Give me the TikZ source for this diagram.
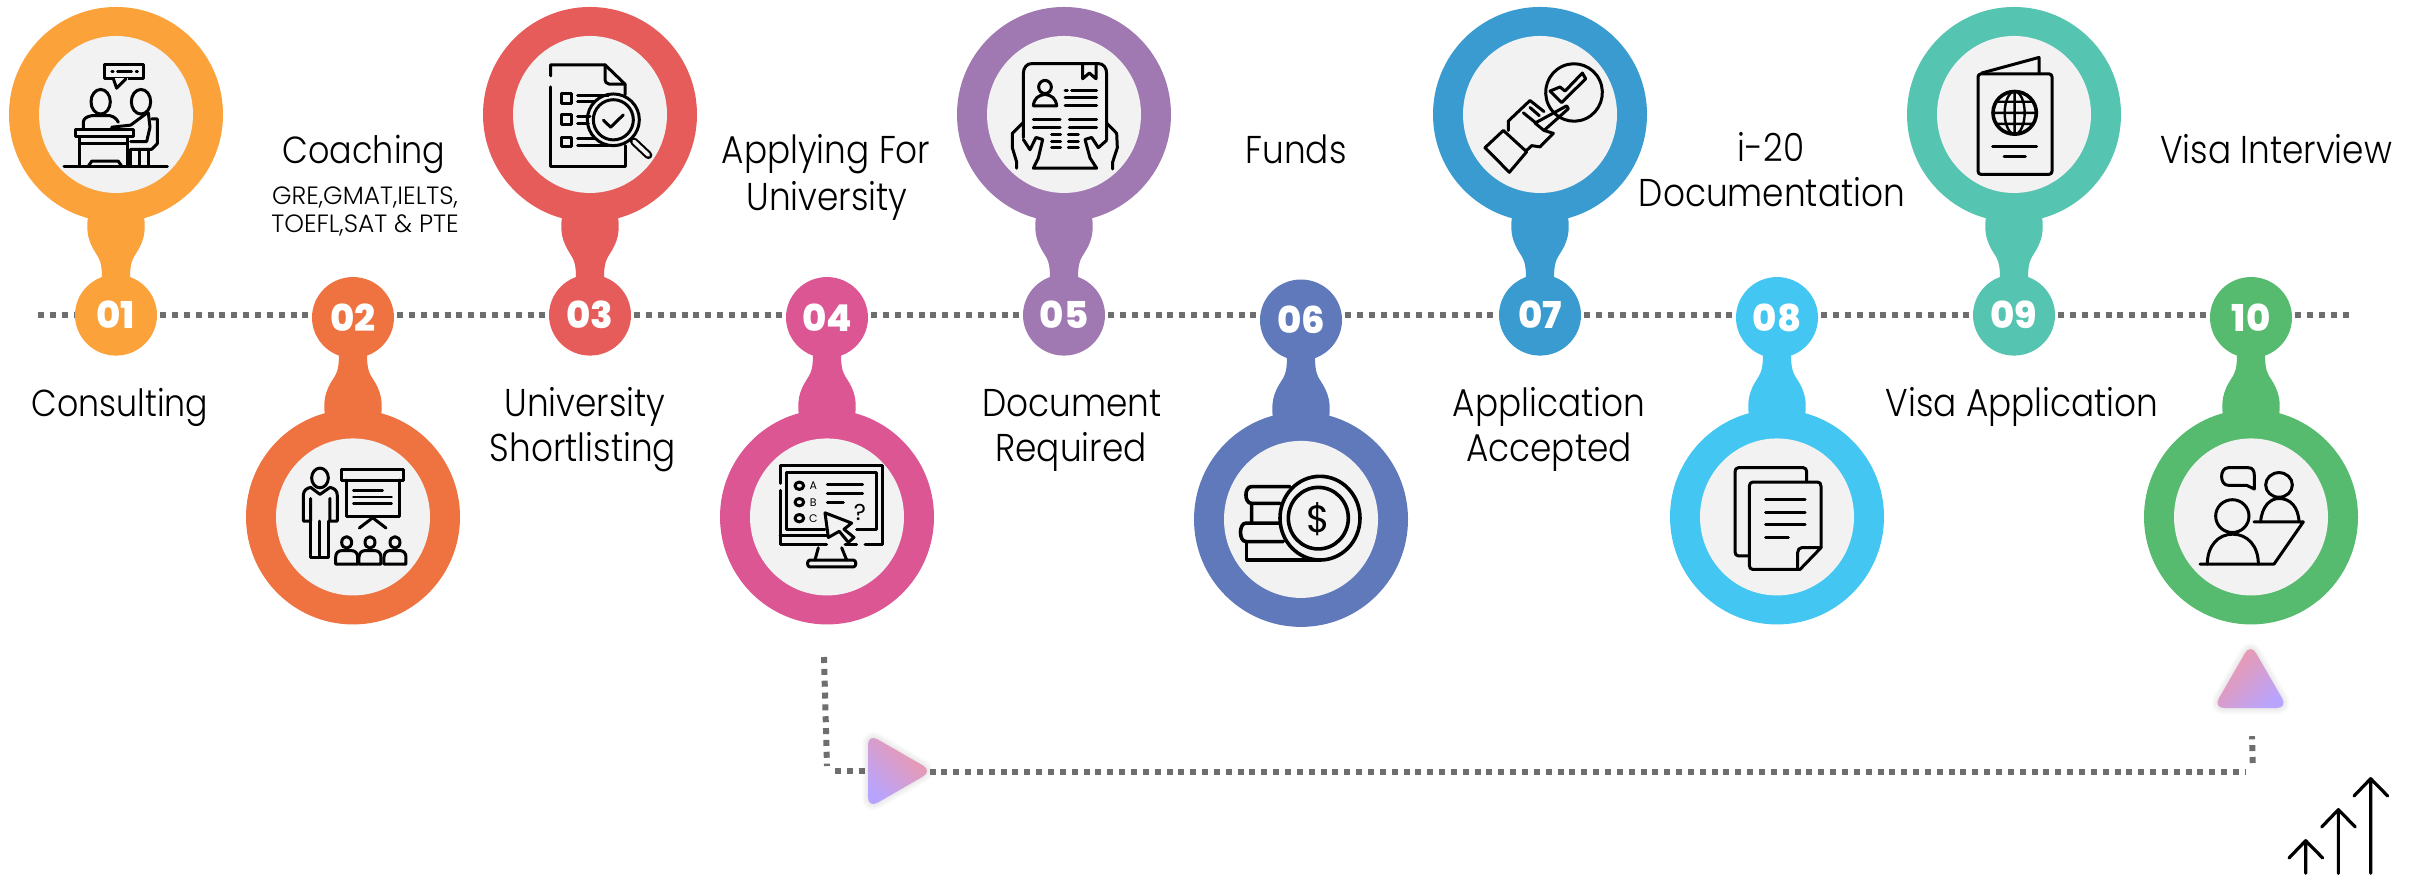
\documentclass[tikz,border=0pt]{standalone}
\usepackage{fontspec}
\setmainfont{Poppins Light}
\newfontfamily\numfont{Poppins}[UprightFont=*-ExtraBold]
\newfontfamily\iconfont{Poppins}
\usetikzlibrary{shapes.geometric,backgrounds}
\definecolor{c1}{HTML}{FBA23B}\definecolor{c2}{HTML}{EF7340}\definecolor{c3}{HTML}{E65C5A}
\definecolor{c4}{HTML}{DC5693}\definecolor{c5}{HTML}{A179B2}\definecolor{c6}{HTML}{5F79BB}
\definecolor{c7}{HTML}{3A9BD0}\definecolor{c8}{HTML}{43C6F1}\definecolor{c9}{HTML}{55C4B0}
\definecolor{c10}{HTML}{56BB6E}\definecolor{bg}{HTML}{F2F2F2}\definecolor{dots}{HTML}{6E6E6E}
\definecolor{tpink}{HTML}{F497A0}\definecolor{tviolet}{HTML}{B8A4FF}
\newcommand\Tall[1]{\scalebox{1}[1.13]{#1}}
\tikzset{
 x=1pt,y=-1.2308pt,
 bigdisc/.style={ellipse,inner sep=0,minimum width=214pt,minimum height=215pt},
 innerdisc/.style={ellipse,inner sep=0,fill=bg,minimum width=154pt,minimum height=157pt},
 numdisc/.style={ellipse,inner sep=0,minimum width=82pt,minimum height=81pt,text=white,font=\numfont\fontsize{37}{37}\selectfont},
 lbl/.style={anchor=base,inner sep=0,font=\fontsize{34.3}{34.3}\selectfont},
 sublbl/.style={anchor=base,inner sep=0,font=\fontsize{25}{25}\selectfont},
 dotline/.style={draw=dots,line width=6pt,dash pattern=on 6pt off 5.85pt},
 tri/.style={regular polygon,regular polygon sides=3,inner sep=0,minimum size=86pt,rounded corners=11pt},
 trifill/.style={tri,top color=tpink,bottom color=tviolet},
 ico/.style={x=0.33333pt,y=-0.41026pt,line width=3pt,line join=round,line cap=round},
 thin ico/.style={line width=2.4pt},
 heavy ico/.style={line width=3.6pt},
}
% id, cx, colour, side (1 above, -1 below), big cy, small cy
\newcommand\Bubble[6]{%
 \node[bigdisc,fill=#3] (big#1) at (#2,#5) {};
 \node[innerdisc] (inner#1) at (#2,#5) {};
 \begin{scope}[shift={(#2,#6)},yscale=#4]
  \fill[#3] (-28,-80) .. controls (-30,-68) and (-28,-60) .. (-20,-50) .. controls (-15,-44) and (-14,-40) .. (-14,-28) -- (14,-28) .. controls (14,-40) and (15,-44) .. (20,-50) .. controls (28,-60) and (30,-68) .. (28,-80) -- cycle;
 \end{scope}
 \node[numdisc,fill=#3] (num#1) at (#2,#6) {#1};
}
\begin{document}
\begin{tikzpicture}
\begin{scope}[y=-1pt]
\useasboundingbox (0,0) rectangle (2418,875);
\begin{scope}[on background layer]
\fill[white] (0,0) rectangle (2418,875);
\end{scope}
\end{scope}

\Bubble{01}{116}{c1}{1}{93}{256}
\Bubble{02}{353}{c2}{-1}{420}{258}
\Bubble{03}{590}{c3}{1}{93}{256}
\Bubble{04}{827}{c4}{-1}{420}{258}
\Bubble{05}{1064}{c5}{1}{93}{256}
\Bubble{06}{1301}{c6}{-1}{422}{260}
\Bubble{07}{1540}{c7}{1}{93}{256}
\Bubble{08}{1777}{c8}{-1}{420}{258}
\Bubble{09}{2014}{c9}{1}{93}{256}
\Bubble{10}{2251}{c10}{-1}{420}{258}

% timeline
\coordinate (lineS) at (38,256);
\coordinate (lineE) at (2350,256);
\begin{scope}[shorten <=3pt]
\draw[dotline,shorten <=0pt] (lineS) -- (num01.west |- lineS);
\draw[dotline] (num01.east |- lineS) -- (num02.west |- lineS);
\draw[dotline] (num02.east |- lineS) -- (num03.west |- lineS);
\draw[dotline] (num03.east |- lineS) -- (num04.west |- lineS);
\draw[dotline] (num04.east |- lineS) -- (num05.west |- lineS);
\draw[dotline] (num05.east |- lineS) -- (num06.west |- lineS);
\draw[dotline] (num06.east |- lineS) -- (num07.west |- lineS);
\draw[dotline] (num07.east |- lineS) -- (num08.west |- lineS);
\draw[dotline] (num08.east |- lineS) -- (num09.west |- lineS);
\draw[dotline] (num09.east |- lineS) -- (num10.west |- lineS);
\draw[dotline] (num10.east |- lineS) -- (lineE);
\end{scope}

% labels
\node[lbl] (t01) at (120,338) {\Tall{\fontsize{33.2}{33.2}\selectfont Consulting}};
\node[lbl] (t02) at (364,133) {\Tall{\fontsize{33.4}{33.4}\selectfont Coaching}};
\node[sublbl] (t02a) at (365,166) {GRE,GMAT,IELTS,};
\node[sublbl] (t02b) at (365,189) {TOEFL,SAT \& PTE};
\node[lbl] (t03a) at (585,338) {\Tall{University}};
\node[lbl] (t03b) at (583,375) {\Tall{Shortlisting}};
\node[lbl] (t04a) at (826,133) {\Tall{Applying For}};
\node[lbl] (t04b) at (827,171) {\Tall{University}};
\node[lbl] (t05a) at (1072,338) {\Tall{Document}};
\node[lbl] (t05b) at (1071,375) {\Tall{Required}};
\node[lbl] (t06) at (1296,133) {\Tall{Funds}};
\node[lbl] (t07a) at (1549,338) {\Tall{Application}};
\node[lbl] (t07b) at (1549,375) {\Tall{Accepted}};
\node[lbl] (t08a) at (1771,131) {\Tall{i-20}};
\node[lbl] (t08b) at (1772,168) {\Tall{Documentation}};
\node[lbl] (t09) at (2022,338) {\Tall{Visa Application}};
\node[lbl] (t10) at (2276,133) {\Tall{Visa Interview}};

% lower connector
\begin{scope}[y=-1pt]
\coordinate (pStart) at (824,657);
\coordinate (pCornerA) at (827,766);
\coordinate (pCornerB) at (2253,772);
\foreach \w in {3,6,9,12}{
 \node[tri,draw=black,draw opacity=.018,line width=\w pt] (shR\w) at (889.5,771) [rotate=-90] {};
 \node[tri,draw=black,draw opacity=.018,line width=\w pt] (shU\w) at (2250.5,686.5) {};
}
\node[trifill,rotate=-90,shading angle=-45] (triR) at (889.5,771) {};
\node[trifill,shading angle=45] (triU) at (2250.5,686.5) {};
\begin{scope}[on background layer]
\draw[dotline] (pStart) -- (pCornerA);
\draw[dotline,shorten <=8pt] (pCornerA |- triR) -- (triR);
\end{scope}
\draw[dotline,shorten <=40pt,shorten >=8pt] (triR |- pCornerB) -- (pCornerB);
\draw[dotline,shorten <=9pt,shorten >=28pt] (pCornerB) -- (triU);
\end{scope}

% growth arrows
\begin{scope}[shift={(2150,620/1.2308)},ico,y=-0.33333pt,line width=3.2pt]
 \draw (467,760) -- (467,662) (417,714) -- (467,662) -- (518,714);
 \draw (565,760) -- (565,569) (515,621) -- (565,569) -- (616,621);
 \draw (662,760) -- (662,476) (612,528) -- (662,476) -- (713,528);
\end{scope}

% icon 01
\begin{scope}[shift={(0,0)},ico]
 \draw (314,156) rectangle (432,192);
 \fill[bg] (340,190) rectangle (385,194);
 \draw (340,192) -- (350,215) -- (378,192);
 \draw[thin ico] (335,174) -- (340,174) (352,174) -- (395,174) (408,174) -- (413,174);
 \draw (302,248) ellipse [x radius=29,y radius=30];
 \draw (423,248) ellipse [x radius=29,y radius=30];
 \draw (250,316) -- (250,298) .. controls (250,288) and (262,284) .. (275,282) -- (330,282) .. controls (342,284) and (350,290) .. (355,298);
 \draw (335,310) -- (392,305) -- (440,276);
 \draw (445,275) -- (450,310) -- (440,345) -- (392,345);
 \draw (455,290) -- (472,290) -- (472,350) -- (455,364) -- (392,364);
 \draw (228,316) rectangle (400,333);
 \draw (240,333) -- (240,405) (382,333) -- (382,405) (240,350) -- (382,350);
 \draw (265,405) -- (275,393) -- (355,393) -- (365,405);
 \draw (392,364) -- (392,405) (418,364) -- (418,405) (445,364) -- (445,405);
 \draw (192,406) -- (502,406);
\end{scope}

% icon 02
\begin{scope}[shift={(0,0)},ico]
 \draw (960,1165) ellipse [x radius=25,y radius=24];
 \draw (932,1215) -- (932,1270) -- (910,1270) -- (910,1208) .. controls (910,1195) and (920,1190) .. (932,1188) -- (960,1205) -- (990,1188) .. controls (1002,1190) and (1012,1195) .. (1012,1208) -- (1012,1270) -- (990,1270) -- (990,1215);
 \draw (932,1270) -- (932,1360) -- (958,1360) -- (958,1270) (958,1360) -- (985,1360) -- (985,1270);
 \draw (1026,1145) rectangle (1210,1170);
 \draw (1040,1170) -- (1040,1258) -- (1198,1258) -- (1198,1170);
 \draw[thin ico] (1060,1196) -- (1148,1196) (1060,1212) -- (1175,1212) (1060,1227) -- (1175,1227);
 \draw (1078,1287) -- (1118,1262) -- (1158,1287);
 \foreach \c in {1040,1110,1185}{
  \draw (\c,1322) ellipse [x radius=15,y radius=14];
  \draw (\c-33,1375) -- (\c-33,1358) .. controls (\c-33,1348) and (\c-25,1342) .. (\c-14,1342) -- (\c+14,1342) .. controls (\c+25,1342) and (\c+33,1348) .. (\c+33,1358) -- (\c+33,1375) -- cycle;
 }
\end{scope}

% icon 03
\begin{scope}[shift={(480,0)},ico]
 \draw (212,185) -- (212,158) -- (375,158) -- (435,205) -- (435,232);
 \draw (435,355) -- (435,406) -- (212,406) -- (212,212);
 \draw (375,158) -- (375,192) .. controls (375,200) and (380,205) .. (388,205) -- (435,205);
 \draw (243,228) rectangle (275,252);
 \draw (243,280) rectangle (275,304);
 \draw (243,334) rectangle (275,358);
 \draw (293,232) -- (385,232) (293,248) -- (345,248) (293,285) -- (330,285) (293,302) -- (325,302) (293,338) -- (345,338) (293,355) -- (385,355);
 \draw (400,292) ellipse [x radius=78,y radius=63];
 \draw (400,292) ellipse [x radius=60,y radius=49];
 \draw (370,293) -- (392,310) -- (430,280);
 \draw[line width=8pt] (462,345) -- (505,378);
 \draw[bg,line width=3.8pt] (462,345) -- (505,378);
\end{scope}

% icon 04
\begin{scope}[shift={(480,0)},ico]
 \draw (900,1178) -- (900,1135) -- (1208,1135) -- (1208,1328) -- (1155,1328);
 \draw (1130,1328) -- (1095,1328) (1040,1328) -- (900,1328) -- (900,1195);
 \draw (920,1290) -- (920,1152) -- (1188,1152) -- (1188,1290) -- (1130,1290);
 \draw (920,1290) -- (1035,1290) (900,1305) -- (1040,1305);
 \draw (958,1184) ellipse [x radius=13,y radius=9];
 \draw (958,1224) ellipse [x radius=13,y radius=9];
 \draw (958,1263) ellipse [x radius=13,y radius=9];
 \node[inner sep=0,font=\iconfont\fontsize{11}{11}\selectfont] (lA) at (1000,1184) {A};
 \node[inner sep=0,font=\iconfont\fontsize{11}{11}\selectfont] (lB) at (1000,1224) {B};
 \node[inner sep=0,font=\iconfont\fontsize{11}{11}\selectfont] (lC) at (1000,1263) {C};
 \draw (1042,1180) -- (1148,1180) (1042,1203) -- (1148,1203) (1042,1226) -- (1090,1226);
 \node[inner sep=0,font=\iconfont\fontsize{23}{23}\selectfont] (lQ) at (1140,1248) {?};
 \draw[fill=bg] (1035,1250) -- (1115,1275) -- (1092,1290) -- (1122,1310) -- (1105,1322) -- (1078,1295) -- (1045,1310) -- cycle;
 \draw (1015,1335) -- (1005,1365) (1085,1335) -- (1100,1365);
 \draw (990,1365) -- (1120,1365) .. controls (1130,1365) and (1130,1382) .. (1120,1382) -- (990,1382) .. controls (980,1382) and (980,1365) .. (990,1365) -- cycle;
\end{scope}

% icon 05
\begin{scope}[shift={(950,0)},ico]
 \draw (220,335) -- (220,180) .. controls (220,165) and (230,155) .. (245,155) -- (445,155) .. controls (460,155) and (470,165) .. (470,180) -- (470,340);
 \draw (398,155) -- (398,192) -- (418,178) -- (438,192) -- (438,155);
 \draw (285,212) ellipse [x radius=19,y radius=16];
 \draw (250,258) -- (320,258) .. controls (318,240) and (305,232) .. (285,230) .. controls (265,232) and (252,240) .. (250,258);
 \draw (345,220) -- (352,220) (365,220) -- (440,220) (345,238) -- (440,238) (345,256) -- (440,256);
 \draw (250,292) -- (330,292) (250,310) -- (330,310) (358,292) -- (440,292) (358,310) -- (440,310);
 \draw (305,328) -- (332,328) (305,345) -- (332,345) (305,360) -- (332,360);
 \draw (355,328) -- (385,328) (355,345) -- (385,345) (355,360) -- (385,360);
 \draw (200,410) -- (200,395) -- (187,360) -- (187,325) -- (218,300);
 \draw (220,340) -- (240,365) -- (258,335) -- (278,340) -- (265,385) -- (250,410) -- (440,410) -- (420,385) -- (405,340) -- (425,335) -- (445,360) -- (470,342);
 \draw (470,300) -- (500,325) -- (502,360) -- (488,395) -- (488,412);
\end{scope}

% icon 06
\begin{scope}[shift={(950,0)},ico,heavy ico]
 \draw (1110,1263) ellipse [x radius=120,y radius=102];
 \draw (1105,1263) ellipse [x radius=90,y radius=75];
 \node[inner sep=0,font=\iconfont\fontsize{38}{38}\selectfont] (dollar) at (1105,1265) {\$};
 \draw (1020,1186) -- (905,1186) .. controls (882,1186) and (882,1227) .. (905,1227) -- (990,1227);
 \draw (905,1227) -- (905,1275) (990,1275) -- (888,1275) .. controls (866,1275) and (866,1320) .. (888,1320) -- (1000,1320);
 \draw (890,1320) -- (890,1365) -- (1105,1365);
\end{scope}

% icon 07
\begin{scope}[shift={(1420,0)},ico]
 \draw (385,255) arc [start angle=155,end angle=-240,x radius=85,y radius=70];
 \draw (390,222) -- (420,212) -- (435,222) -- (487,178) -- (497,192) -- (425,250) -- cycle;
 \draw (195,360) -- (250,318) -- (320,370) -- (268,420) -- cycle;
 \draw (265,318) -- (265,295) -- (330,245) -- (372,272);
 \draw (310,275) -- (345,298) (330,262) -- (358,282);
 \draw (345,300) -- (440,258) -- (445,265) -- (372,318) -- (345,300);
 \draw (372,318) -- (400,325) -- (360,358) -- (335,355) -- (318,368);
\end{scope}

% icon 08
\begin{scope}[shift={(1420,0)},ico]
 \draw (1160,1172) -- (1160,1150) .. controls (1160,1144) and (1156,1140) .. (1150,1140) -- (955,1140) .. controls (949,1140) and (945,1144) .. (945,1150) -- (945,1345) .. controls (945,1351) and (949,1355) .. (955,1355) -- (985,1355);
 \draw (998,1175) -- (1193,1175) .. controls (1199,1175) and (1203,1179) .. (1203,1185) -- (1203,1335) -- (1140,1388) -- (998,1388) .. controls (992,1388) and (988,1384) .. (988,1378) -- (988,1185) .. controls (988,1179) and (992,1175) .. (998,1175) -- cycle;
 \draw (1203,1335) -- (1145,1335) .. controls (1138,1335) and (1133,1340) .. (1133,1347) -- (1133,1388);
 \draw (1037,1218) -- (1155,1218) (1037,1248) -- (1155,1248) (1037,1278) -- (1155,1278) (1037,1310) -- (1105,1310);
\end{scope}

% icon 09
\begin{scope}[shift={(1900,0)},ico]
 \draw[rounded corners=3pt] (234,180) rectangle (456,425);
 \draw (245,178) -- (417,140) -- (417,178);
 \draw[heavy ico] (344,275) ellipse [x radius=65,y radius=52];
 \draw[thin ico] (344,275) ellipse [x radius=30,y radius=52] (344,223) -- (344,327) (290,248) -- (398,248) (280,275) -- (408,275) (290,302) -- (398,302);
 \draw (278,357) -- (410,357) (312,381) -- (376,381);
\end{scope}

% icon 10
\begin{scope}[shift={(1900,0)},ico]
 \draw (985,1140) -- (1045,1140) .. controls (1058,1140) and (1063,1147) .. (1063,1160) -- (1063,1192) -- (1040,1183) -- (985,1183) .. controls (958,1183) and (958,1140) .. (985,1140) -- cycle;
 \draw (1137,1182) ellipse [x radius=40,y radius=30];
 \draw (1082,1272) .. controls (1085,1235) and (1110,1215) .. (1137,1215) .. controls (1170,1215) and (1195,1235) .. (1197,1272);
 \draw (1062,1272) -- (1210,1272) -- (1122,1375) -- (900,1375);
 \draw (997,1258) ellipse [x radius=50,y radius=40];
 \draw (922,1375) .. controls (922,1330) and (955,1302) .. (998,1302) .. controls (1042,1302) and (1075,1330) .. (1075,1375);
\end{scope}
\end{tikzpicture}
\end{document}
